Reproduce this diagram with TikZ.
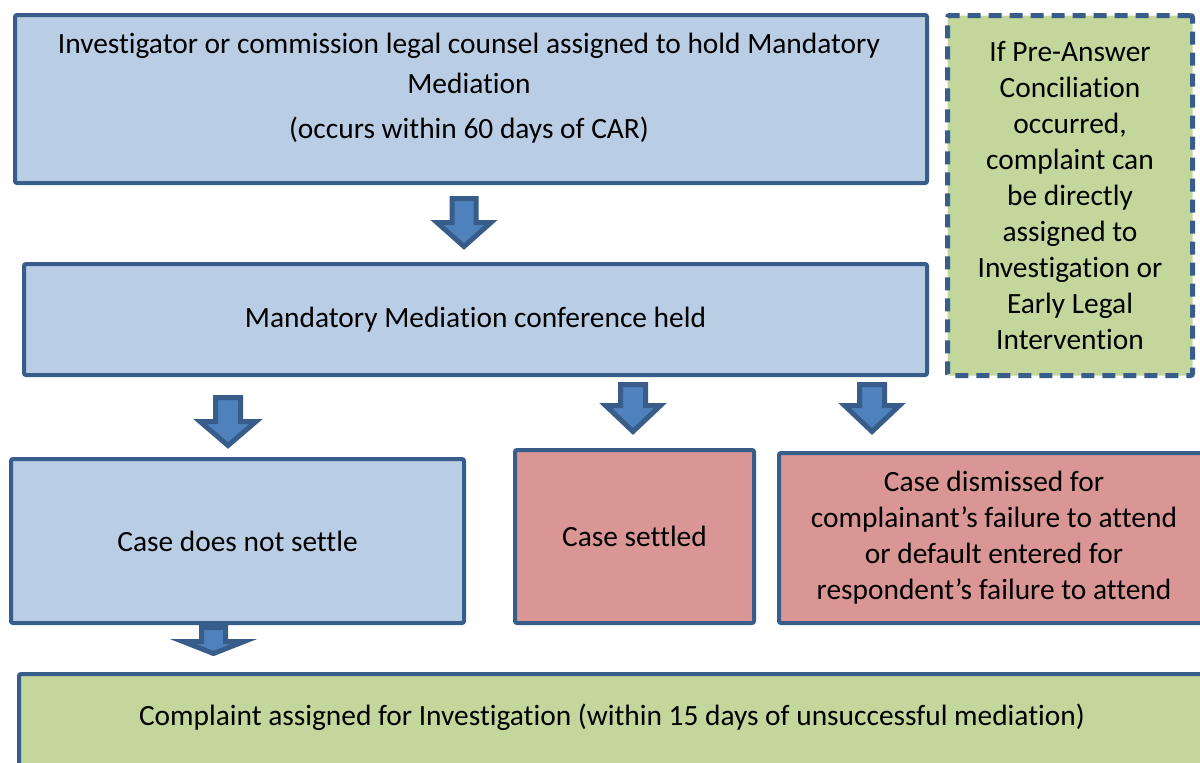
\documentclass[tikz,border=0pt]{standalone}
\usepackage{fontspec}
\setmainfont[RawFeature=-liga]{Carlito}
\definecolor{edgeblue}{HTML}{385D8A}
\definecolor{arrowblue}{HTML}{4F81BD}
\definecolor{fillblue}{HTML}{B9CDE5}
\definecolor{fillred}{HTML}{D99694}
\definecolor{fillgreen}{HTML}{C3D69B}
\tikzset{
  box/.style={draw=edgeblue, line width=4pt, rounded corners=2pt, rectangle,
    anchor=north west, inner sep=0pt, align=center,
    font=\fontsize{29.4}{36}\selectfont},
  txt/.style={align=center, inner sep=0pt, font=\fontsize{29.4}{36}\selectfont},
  blockarrowstyle/.style={draw=edgeblue, fill=arrowblue, line width=5pt, line join=miter}
}
% downward block arrow: centre x, top y, head y, tip y, shaft half width, head half width
\newcommand\blockarrow[6]{%
  \draw[blockarrowstyle] ({#1-#5},#2) -- ({#1+#5},#2) -- ({#1+#5},#3) -- ({#1+#6},#3)
    -- (#1,#4) -- ({#1-#6},#3) -- ({#1-#5},#3) -- cycle;}
\begin{document}
\begin{tikzpicture}[x=1pt, y=-1pt]
\useasboundingbox (0,0) rectangle (1200,763);
\clip (0,0) rectangle (1200,763);

% top row
\node[box, fill=fillblue, minimum width=912pt, minimum height=168pt] (assign) at (13,13) {};
\node[txt] (assigntext) at (469,88) {Investigator or commission legal counsel assigned to hold Mandatory\\[4pt]
  Mediation\\[9pt](occurs within 60 days of CAR)};
\node[box, fill=fillgreen, line width=5pt, dash pattern=on 13pt off 8pt, minimum width=245pt, minimum height=360pt] (preanswer) at (945,13)
  {If Pre-Answer\\Conciliation\\occurred,\\complaint can\\be directly\\assigned to\\Investigation or\\Early Legal\\Intervention};

% mediation conference
\node[box, fill=fillblue, minimum width=903pt, minimum height=111pt] (conference) at (22,262)
  {Mandatory Mediation conference held};

% outcomes
\node[box, fill=fillblue, minimum width=453pt, minimum height=164pt] (nosettle) at (9,457)
  {Case does not settle};
\node[box, fill=fillred, minimum width=239pt, minimum height=173pt] (settled) at (513,448)
  {Case settled};
\node[box, fill=fillred, minimum width=430pt, minimum height=170pt] (dismissed) at (777,451)
  {Case dismissed for\\complainant’s failure to attend\\or default entered for\\respondent’s failure to attend};

% investigation
\node[box, fill=fillgreen, minimum width=1190pt, minimum height=110pt] (investigation) at (17,672) {};
\node[txt] (investigationtext) at (612,717)
  {Complaint assigned for Investigation (within 15 days of unsuccessful mediation)};

% block arrows
\blockarrow{464}{198.5}{222.5}{246.5}{12}{27}
\blockarrow{228}{397.5}{421.5}{445.5}{12.5}{28}
\blockarrow{633}{384.5}{405.5}{431.5}{12.5}{27.5}
\blockarrow{872}{384.5}{405.5}{431.5}{12.5}{27.5}
\blockarrow{213.5}{627.5}{641.5}{653.5}{12}{30.5}
\end{tikzpicture}
\end{document}
